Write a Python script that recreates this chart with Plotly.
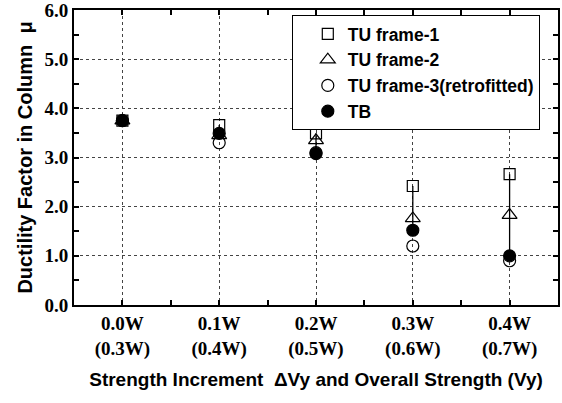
import plotly.graph_objects as go

# Strength increment (top line) and overall strength (bottom line)
increments = ["0.0W", "0.1W", "0.2W", "0.3W", "0.4W"]
overall = ["(0.3W)", "(0.4W)", "(0.5W)", "(0.6W)", "(0.7W)"]

# Ductility factor in column for each frame
tu_frame1 = [3.75, 3.66, 3.49, 2.42, 2.66]
tu_frame2 = [3.75, 3.45, 3.35, 1.76, 1.83]
tu_frame3 = [3.75, 3.30, 3.10, 1.20, 0.90]
tb = [3.75, 3.49, 3.08, 1.52, 1.00]

xpos = list(range(len(increments)))
ticktext = [f"{a}<br>{b}" for a, b in zip(increments, overall)]

serif = "Liberation Serif"
sans = "Liberation Sans"

fig = go.Figure()

# vertical connector from TU frame-1 down to TB at each strength level
cx, cy = [], []
for x, top, bot in zip(xpos, tu_frame1, tb):
    cx += [x, x, None]
    cy += [top, bot, None]
fig.add_trace(go.Scatter(x=cx, y=cy, mode="lines", line=dict(color="black", width=1.3),
                         showlegend=False, hoverinfo="skip"))

series = [
    ("TU frame-1", tu_frame1, "square-open", 11),
    ("TU frame-2", tu_frame2, "triangle-up-open", 13),
    ("TU frame-3(retrofitted)", tu_frame3, "circle-open", 12),
    ("TB", tb, "circle", 12),
]
for i, (name, vals, sym, size) in enumerate(series):
    fig.add_trace(go.Scatter(
        x=xpos, y=vals, mode="markers", name=name,
        marker=dict(symbol=sym, size=size, color="black",
                    line=dict(color="black", width=1.2)),
    ))

axis_common = dict(
    showline=True, linecolor="black", linewidth=2, mirror="allticks",
    ticks="inside", ticklen=5, tickwidth=1.5, tickcolor="black",
    showgrid=True, gridcolor="#444", gridwidth=1, griddash="dot",
    zeroline=False, automargin=False, ticklabeloverflow="allow",
)

fig.update_layout(
    width=562, height=403,
    margin=dict(l=74, r=4, t=10, b=98),
    paper_bgcolor="white", plot_bgcolor="white",
    xaxis=dict(
        range=[-0.5, 4.5], tickmode="array", tickvals=xpos, ticktext=ticktext,
        tickfont=dict(family=serif, size=19, color="black", weight="bold"),
        minor=dict(tickmode="array", tickvals=[x + 0.5 for x in xpos[:-1]],
                   ticks="inside", ticklen=5, tickwidth=1.5, tickcolor="black",
                   showgrid=False),
        title=dict(text="Strength Increment  \u0394Vy and Overall Strength (Vy)",
                   font=dict(family=sans, size=19, color="black", weight="bold"),
                   standoff=14),
        **axis_common,
    ),
    yaxis=dict(
        range=[0, 6], tickmode="linear", tick0=0, dtick=1, tickformat=".1f",
        tickfont=dict(family=serif, size=19, color="black", weight="bold"),
        minor=dict(dtick=0.5, ticks="inside", ticklen=5, tickwidth=1.5,
                   tickcolor="black", showgrid=False),
        title=dict(text="Ductility Factor in Column  \u03bc",
                   font=dict(family=sans, size=20, color="black", weight="bold"),
                   standoff=6),
        **axis_common,
    ),
    legend=dict(
        x=0.45, y=0.983, xanchor="left", yanchor="top",
        bgcolor="white", bordercolor="black", borderwidth=1,
        font=dict(family=sans, size=17.5, color="black", weight="bold"),
        indentation=15, itemwidth=30,
    ),
    showlegend=True,
)

fig.write_html("out.html")
